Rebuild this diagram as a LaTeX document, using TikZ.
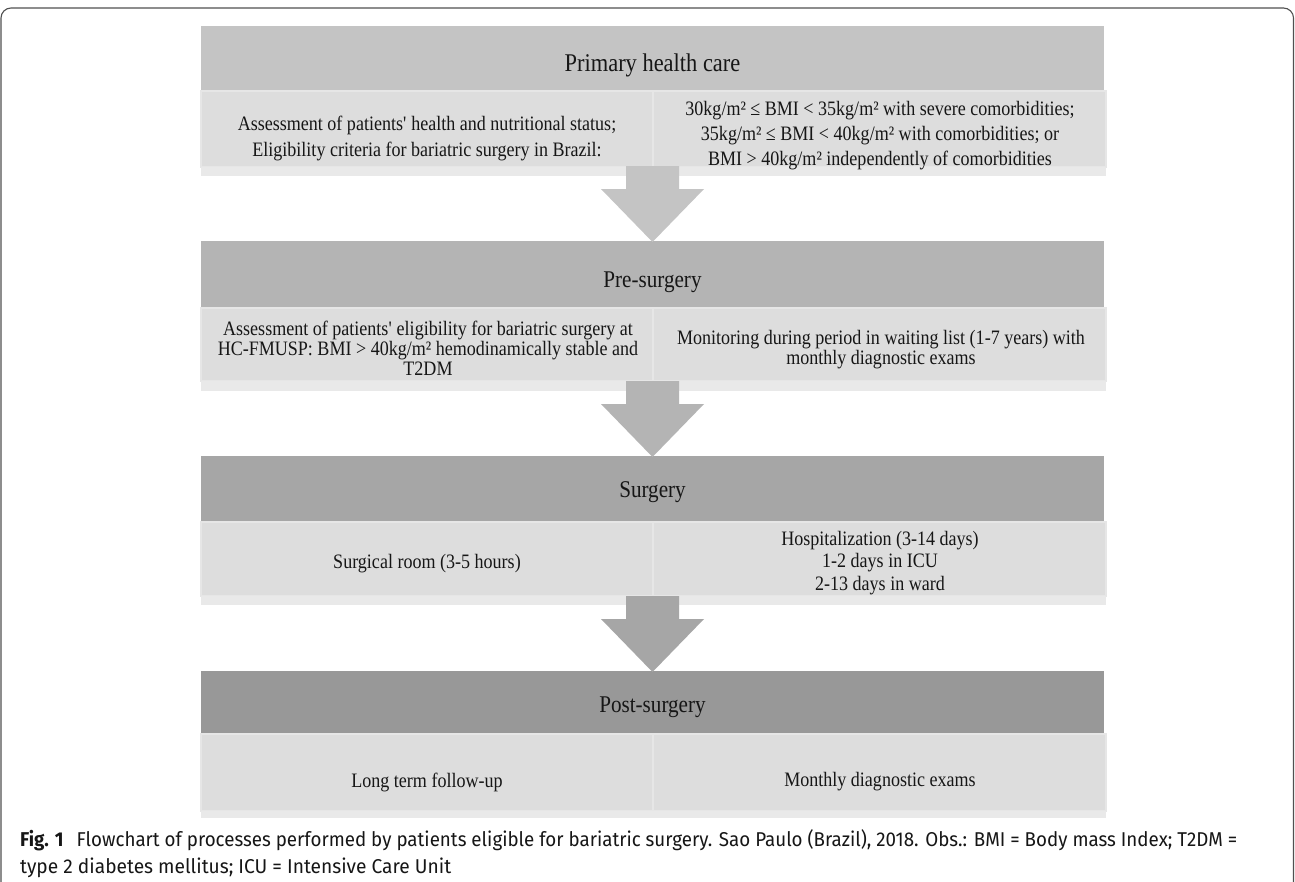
\documentclass[tikz,border=0pt]{standalone}
\usepackage{fontspec}
\usepackage{graphicx}
\usetikzlibrary{calc}
\setmainfont{Liberation Serif}
\newfontfamily\diag{Liberation Serif}[FakeStretch=0.88]
\newfontfamily\capf{Fira Sans}
\definecolor{hA}{HTML}{C4C4C4}
\definecolor{hB}{HTML}{B4B4B4}
\definecolor{hC}{HTML}{A6A6A6}
\definecolor{hD}{HTML}{989898}
\definecolor{cellc}{HTML}{DDDDDD}
\definecolor{celledge}{HTML}{E6E6E6}
\definecolor{bandc}{HTML}{E9E9E9}
\definecolor{framec}{HTML}{505050}
\definecolor{txt}{HTML}{161616}
\begin{document}
\begin{tikzpicture}[x=1pt,y=-1pt,
  hdr/.style={anchor=north west, inner sep=0pt, outer sep=0pt, minimum width=903pt},
  hdrtext/.style={inner sep=0pt, text=txt, font=\diag\fontsize{24}{28}\selectfont},
  cellbox/.style={anchor=north west, inner sep=0pt, outer sep=0pt, fill=cellc, draw=celledge, line width=1.2pt},
  celltext/.style={align=center, inner sep=0pt, text=txt, font=\diag\fontsize{20.5}{23}\selectfont},
  bandfill/.style={fill=bandc}
]
\path[use as bounding box] (0,0) rectangle (1295,881);
\clip (0,0) rectangle (1295,881);
\fill[white] (0,0) rectangle (1295,881);
% outer frame
\draw[framec, line width=1.1pt, rounded corners=10pt] (1,960) -- (1,8) -- (1293.5,8) -- (1293.5,960);

% ---------- block 1
\node[hdr, fill=hA, minimum height=65pt] (h1) at (201,26) {};
\node[hdrtext, font=\diag\fontsize{25.5}{28}\selectfont] (l1) at (652.5,65) {Primary health care};
\node[cellbox, minimum width=452pt, minimum height=76pt] (c1l) at (201,91) {};
\node[cellbox, minimum width=453pt, minimum height=76pt] (c1r) at (653,91) {};
\fill[bandfill] (c1l.south west) rectangle ([yshift=-9pt]c1r.south east);
\node[celltext, font=\diag\fontsize{20.5}{26}\selectfont] (t1l) at (427,138)
  {Assessment of patients\textquotesingle{} health and nutritional status;\\Eligibility criteria for bariatric surgery in Brazil:};
\node[celltext, font=\diag\fontsize{20.5}{25}\selectfont] (t1r) at (880,136)
  {30kg/m² ≤ BMI < 35kg/m² with severe comorbidities;\\35kg/m² ≤ BMI < 40kg/m² with comorbidities; or\\BMI > 40kg/m² independently of comorbidities};

% ---------- block 2
\node[hdr, fill=hB, minimum height=67pt] (h2) at (201,241) {};
\node[hdrtext] (l2) at (652.5,282) {Pre-surgery};
\node[cellbox, minimum width=452pt, minimum height=73pt] (c2l) at (201,308) {};
\node[cellbox, minimum width=453pt, minimum height=73pt] (c2r) at (653,308) {};
\fill[bandfill] (c2l.south west) rectangle ([yshift=-10pt]c2r.south east);
\node[celltext, font=\diag\fontsize{20.5}{20}\selectfont] (t2l) at (428,348)
  {Assessment of patients\textquotesingle{} eligibility for bariatric surgery at\\HC-FMUSP: BMI > 40kg/m² hemodinamically stable and\\T2DM};
\node[celltext, font=\diag\fontsize{20.5}{20}\selectfont] (t2r) at (881,350)
  {Monitoring during period in waiting list (1-7 years) with\\monthly diagnostic exams};

% ---------- block 3
\node[hdr, fill=hC, minimum height=66pt] (h3) at (201,456) {};
\node[hdrtext] (l3) at (652.5,492) {Surgery};
\node[cellbox, minimum width=452pt, minimum height=74pt] (c3l) at (201,522) {};
\node[cellbox, minimum width=453pt, minimum height=74pt] (c3r) at (653,522) {};
\fill[bandfill] (c3l.south west) rectangle ([yshift=-9pt]c3r.south east);
\node[celltext] (t3l) at (427,564) {Surgical room (3-5 hours)};
\node[celltext, font=\diag\fontsize{20.5}{22.5}\selectfont] (t3r) at (880,563)
  {Hospitalization (3-14 days)\\1-2 days in ICU\\2-13 days in ward};

% ---------- block 4
\node[hdr, fill=hD, minimum height=63pt] (h4) at (201,671) {};
\node[hdrtext] (l4) at (652.5,707) {Post-surgery};
\node[cellbox, minimum width=452pt, minimum height=77pt] (c4l) at (201,734) {};
\node[cellbox, minimum width=453pt, minimum height=77pt] (c4r) at (653,734) {};
\fill[bandfill] (c4l.south west) rectangle ([yshift=-7pt]c4r.south east);
\node[celltext] (t4l) at (427,782) {Long term follow-up};
\node[celltext] (t4r) at (880,782) {Monthly diagnostic exams};

% ---------- block arrows (cell row -> next header)
\foreach \nxt/\col in {h2/hA, h3/hB, h4/hC}{
  \fill[\col] ($(\nxt.north)+(-26.5,-75)$) -- ++(53,0) -- ++(0,23) -- ++(25,0)
    -- ($(\nxt.north)+(0,1)$) -- ($(\nxt.north)+(-51.5,-52)$) -- ++(25,0) -- cycle;
}

% ---------- caption
\node[anchor=base west, inner sep=0pt, text=txt] (cap1) at (20,846)
  {\capf\fontsize{20}{27}\selectfont\resizebox{1217pt}{\height}{\textbf{Fig. 1}\hspace{0.7em}Flowchart of processes performed by patients eligible for bariatric surgery. Sao Paulo (Brazil), 2018. Obs.: BMI = Body mass Index; T2DM =}};
\node[anchor=base west, inner sep=0pt, text=txt] (cap2) at (20,873)
  {\capf\fontsize{20}{27}\selectfont\resizebox{431pt}{\height}{type 2 diabetes mellitus; ICU = Intensive Care Unit}};
\end{tikzpicture}
\end{document}
